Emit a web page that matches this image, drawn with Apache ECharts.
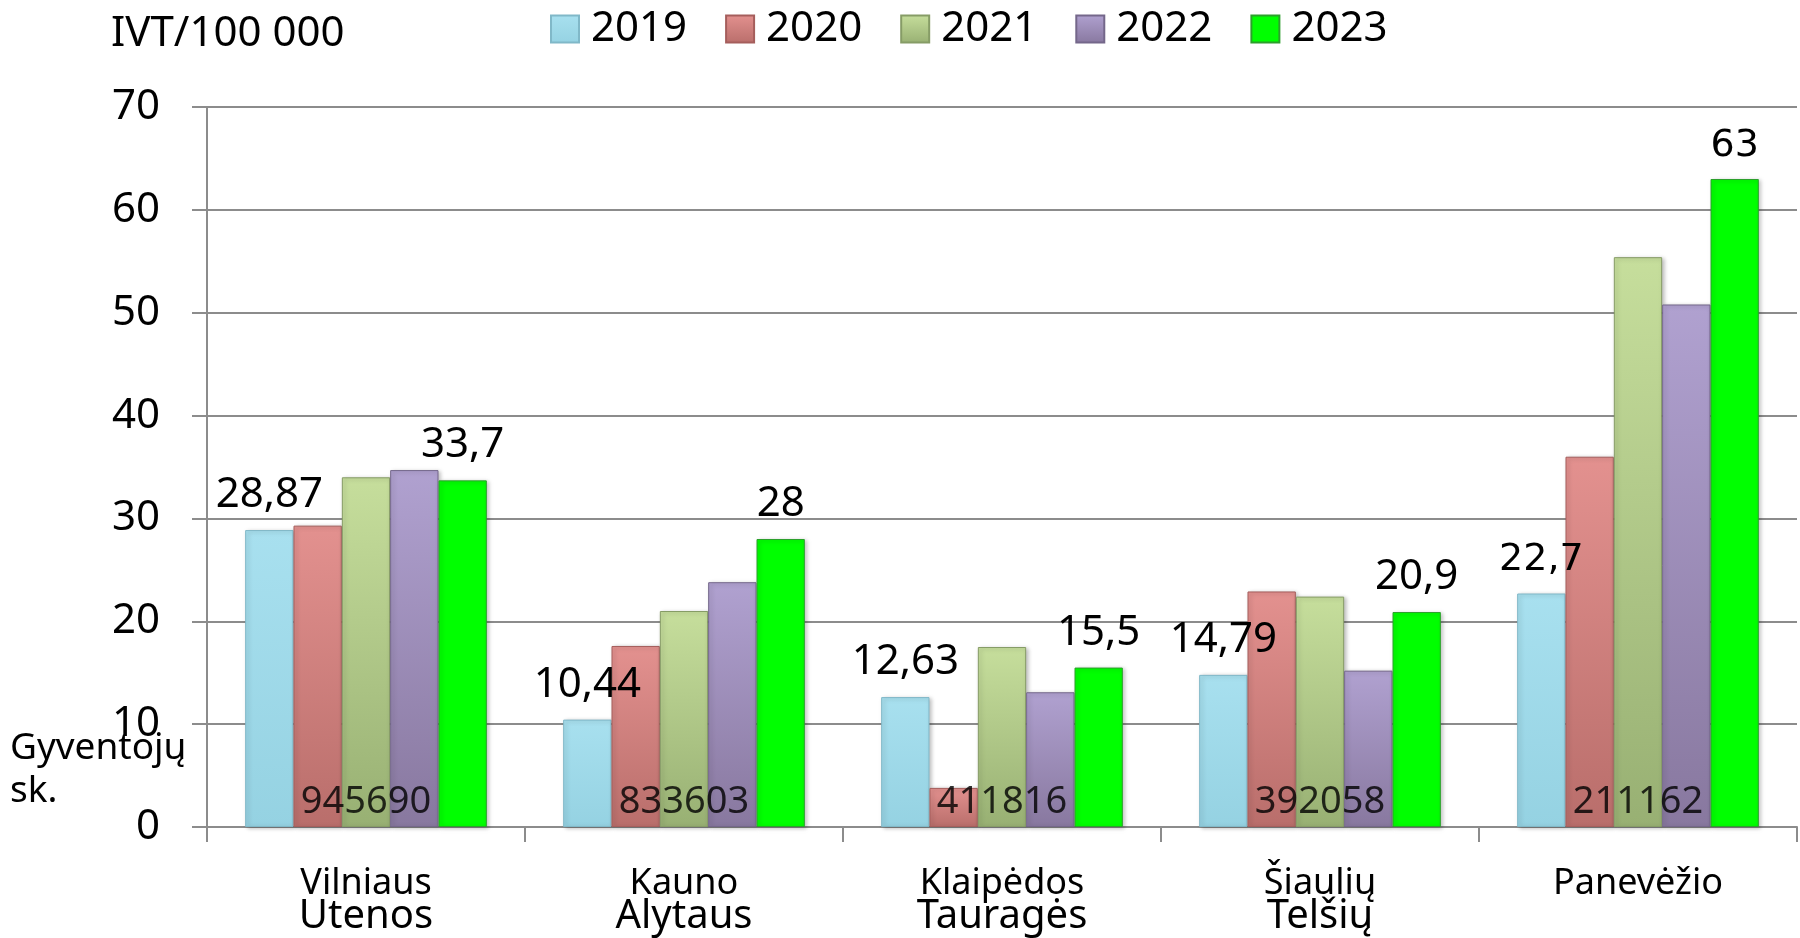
<!DOCTYPE html>
<html>
<head>
<meta charset="utf-8">
<title>IVT / 100 000</title>
<script src="https://cdn.jsdelivr.net/npm/echarts@6/dist/echarts.min.js"></script>
<style>
  html, body { margin: 0; padding: 0; background: #fff; }
  #chart { width: 1800px; height: 938px; }
</style>
</head>
<body>
<div id="chart"></div>
<script>
// regions (two-line labels: county pair)
const categories = ['Vilniaus\nUtenos', 'Kauno\nAlytaus', 'Klaipėdos\nTauragės', 'Šiaulių\nTelšių', 'Panevėžio'];
const years = ['2019', '2020', '2021', '2022', '2023'];

// IVT per 100 000 inhabitants
const v2019 = [28.87, 10.44, 12.63, 14.79, 22.7];
const v2020 = [29.3, 17.6, 3.8, 22.9, 36.0];
const v2021 = [34.0, 21.0, 17.5, 22.4, 55.4];
const v2022 = [34.7, 23.8, 13.1, 15.2, 50.8];
const v2023 = [33.7, 28, 15.5, 20.9, 63];

// population per region
const population = [945690, 833603, 411816, 392058, 211162];

const yMin = 0, yMax = 70, yStep = 10;

const FONT = 'Noto Sans';

function grad(top, bottom) {
  return new echarts.graphic.LinearGradient(0, 0, 0, 1, [
    { offset: 0, color: top },
    { offset: 1, color: bottom }
  ]);
}

const barStyles = [
  { color: grad('#a8e0ef', '#95d2e2'), borderColor: '#80b8c8' },
  { color: grad('#e3918f', '#b96e6b'), borderColor: '#a55e5c' },
  { color: grad('#c6de9c', '#98b073'), borderColor: '#869c66' },
  { color: grad('#b0a1d0', '#88789f'), borderColor: '#74678a' },
  { color: '#00ff00', borderColor: '#2ca02c' }
];

const fmt = p => String(p.value).replace('.', ',');

function makeBar(name, values, idx, showLabel) {
  return {
    name: name,
    type: 'bar',
    barGap: '0%',
    barCategoryGap: '24%',
    itemStyle: Object.assign({
      borderWidth: 1,
      shadowBlur: 4,
      shadowColor: 'rgba(0,0,0,0.25)',
      shadowOffsetX: 2,
      shadowOffsetY: 1
    }, barStyles[idx]),
    label: {
      show: showLabel,
      position: 'top',
      distance: 14,
      fontFamily: FONT,
      fontSize: 42,
      color: '#000',
      formatter: fmt
    },
    // last region's labels are drawn in a wider face in the original
    data: values.map((v, i) => i === categories.length - 1
      ? { value: v, label: { fontFamily: 'DejaVu Sans', fontSize: 38 } }
      : v)
  };
}

const chart = echarts.init(document.getElementById('chart'));
chart.setOption({
  animation: false,
  textStyle: { fontFamily: FONT },
  title: {
    text: 'IVT/100 000',
    left: 111,
    top: 13,
    padding: 0,
    textStyle: { fontFamily: FONT, fontSize: 42, fontWeight: 'normal', color: '#000' }
  },
  legend: {
    data: years,
    left: 545,
    top: 3,
    icon: 'rect',
    itemWidth: 28,
    itemHeight: 27,
    itemGap: 38,
    textStyle: { fontFamily: FONT, fontSize: 42, color: '#000', padding: [0, 0, 0, 7] }
  },
  graphic: [{
    type: 'text',
    left: 10,
    top: 727,
    style: {
      text: 'Gyventojų\nsk.',
      font: '37px "Noto Sans"',
      lineHeight: 43,
      fill: '#000'
    }
  }],
  grid: { left: 207, right: 3, top: 107, bottom: 111, containLabel: false },
  xAxis: {
    type: 'category',
    data: categories,
    axisLine: { lineStyle: { color: '#8c8c8c', width: 2 } },
    axisTick: { show: true, length: 15, lineStyle: { color: '#8c8c8c', width: 2 } },
    axisLabel: {
      margin: 40,
      color: '#000',
      formatter: v => {
        const parts = v.split('\n');
        return parts.length > 1 ? '{a|' + parts[0] + '}\n{b|' + parts[1] + '}' : '{a|' + parts[0] + '}';
      },
      rich: {
        a: { fontFamily: FONT, fontSize: 36, lineHeight: 33, color: '#000' },
        b: { fontFamily: FONT, fontSize: 40, lineHeight: 33, color: '#000' }
      }
    }
  },
  yAxis: {
    type: 'value',
    min: yMin,
    max: yMax,
    interval: yStep,
    axisLine: { show: true, lineStyle: { color: '#8c8c8c', width: 2 } },
    axisTick: { show: true, length: 15, lineStyle: { color: '#8c8c8c', width: 2 } },
    splitLine: { lineStyle: { color: '#8c8c8c', width: 2 } },
    axisLabel: { margin: 47, fontFamily: FONT, fontSize: 42, color: '#000' }
  },
  series: [
    makeBar('2019', v2019, 0, true),
    makeBar('2020', v2020, 1, false),
    makeBar('2021', v2021, 2, false),
    makeBar('2022', v2022, 3, false),
    makeBar('2023', v2023, 4, true),
    {
      name: 'Gyventojų sk.',
      type: 'scatter',
      symbolSize: 0,
      z: 10,
      silent: true,
      label: {
        show: true,
        position: 'top',
        distance: 6,
        fontFamily: FONT,
        fontSize: 38,
        color: '#000',
        formatter: p => String(population[p.dataIndex])
      },
      data: population.map(() => 0)
    }
  ]
});
</script>
</body>
</html>
